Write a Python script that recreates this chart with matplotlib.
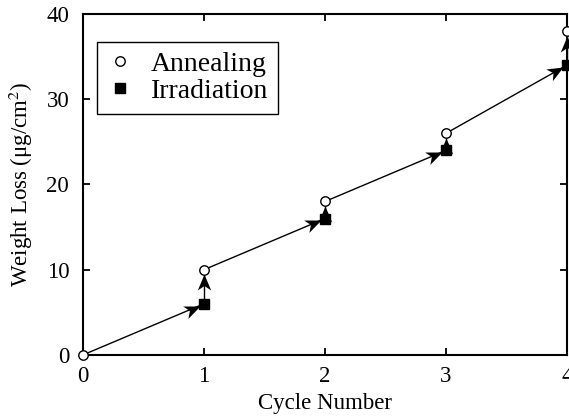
import matplotlib
matplotlib.use("Agg")
import numpy as np
import matplotlib.pyplot as plt
from matplotlib.path import Path
from matplotlib.markers import MarkerStyle
from matplotlib.transforms import Affine2D

cycles = [0, 1, 2, 3, 4]
annealing = [0, 10, 18, 26, 38]
irr_cycles = [1, 2, 3, 4]
irradiation = [6, 16, 24, 34]

plt.rcParams['font.family'] = ['Liberation Serif', 'DejaVu Serif']
plt.rcParams['mathtext.fontset'] = 'stix'

fig = plt.figure(figsize=(5.69, 4.18), dpi=100)
ax = fig.add_axes([0.146, 0.151, 0.8505, 0.8155])
ax.set_xlim(0, 4)
ax.set_ylim(0, 40)

# arrow path: anneal(n) -> irr(n+1) -> anneal(n+1)
path = [(cycles[0], annealing[0])]
for c, irr, ann in zip(irr_cycles, irradiation, annealing[1:]):
    path.append((c, irr))
    path.append((c, ann))

stealth = Path([(0, 0), (-1.0, 0.42), (-0.72, 0), (-1.0, -0.42), (0, 0)],
               [Path.MOVETO, Path.LINETO, Path.LINETO, Path.LINETO, Path.CLOSEPOLY])

tr = ax.transData
inv = tr.inverted()
for (x0, y0), (x1, y1) in zip(path[:-1], path[1:]):
    p0 = tr.transform((x0, y0))
    p1 = tr.transform((x1, y1))
    d = p1 - p0
    d = d / np.hypot(*d)
    start = inv.transform(p0 + d * 4.0)
    tip = inv.transform(p1 - d * 4.8)
    ang = np.degrees(np.arctan2(d[1], d[0]))
    ax.plot([start[0], tip[0]], [start[1], tip[1]], color="black", lw=1.0,
            solid_capstyle="butt", zorder=2, clip_on=False)
    ms = MarkerStyle(stealth, transform=Affine2D().rotate_deg(ang))
    ax.plot([tip[0]], [tip[1]], linestyle="none", marker=ms, markersize=23,
            color="black", markeredgewidth=0, zorder=3, clip_on=False)

ax.plot(cycles, annealing, linestyle="none", marker="o", markersize=6.8,
        markerfacecolor="white", markeredgecolor="black", markeredgewidth=1.0,
        label="Annealing", clip_on=False, zorder=4)
ax.plot(irr_cycles, irradiation, linestyle="none", marker="s", markersize=6.8,
        markerfacecolor="black", markeredgecolor="black",
        label="Irradiation", clip_on=False, zorder=4)

ax.set_xticks([0, 1, 2, 3, 4])
ax.set_yticks([0, 10, 20, 30, 40])
ax.tick_params(direction="in", length=5, width=1.3, top=True, right=True,
               labelsize=16.5)
ax.tick_params(axis="y", pad=10)
ax.tick_params(axis="x", pad=8)
for s in ax.spines.values():
    s.set_linewidth(1.5)

ax.set_xlabel("Cycle Number", fontsize=16.5, labelpad=4)
ax.set_ylabel("Weight Loss (μg/cm$^2$)", fontsize=16.5, labelpad=8)

leg = ax.legend(loc="upper left", bbox_to_anchor=(0.028, 0.918), fontsize=20,
                frameon=True, fancybox=False, edgecolor="black", framealpha=1,
                handlelength=1.0, handletextpad=0.6, borderpad=0.35,
                labelspacing=0.05, borderaxespad=0)
leg.get_frame().set_linewidth(1.0)

fig.savefig("out.png", dpi=100)
